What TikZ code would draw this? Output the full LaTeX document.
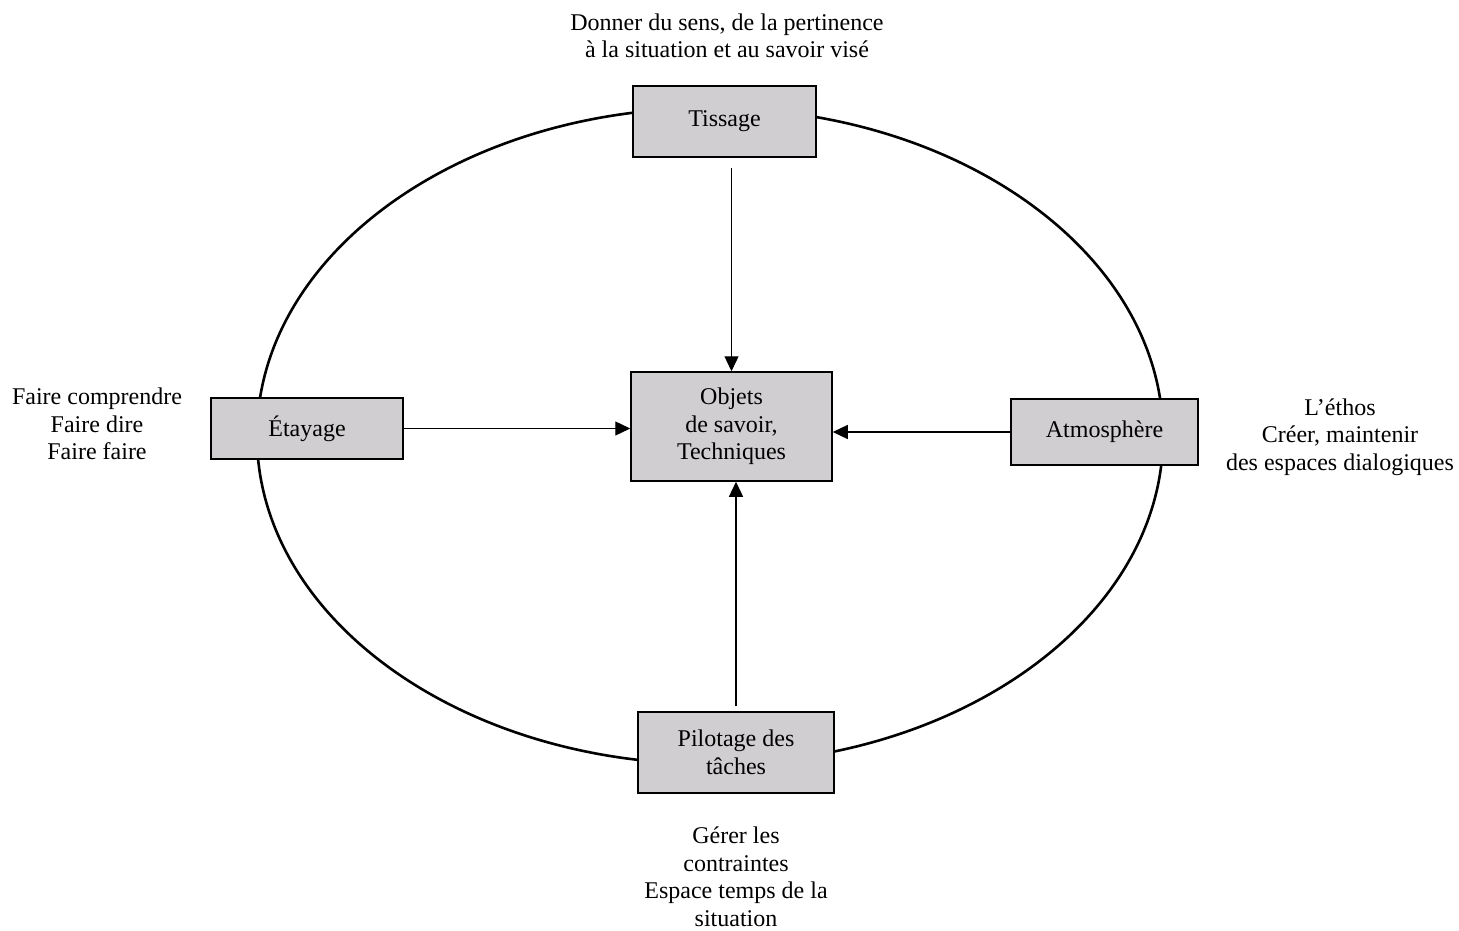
\documentclass[tikz,border=0pt]{standalone}
\usepackage{fontspec}
\setmainfont{Liberation Serif}
\usetikzlibrary{arrows.meta}
\definecolor{boxgray}{RGB}{208,206,208}
\begin{document}
\begin{tikzpicture}[x=1pt,y=-1pt,
  txt/.style={align=center,inner sep=0pt,font=\fontsize{24}{27.5}\selectfont},
  box/.style={draw=black,line width=1.5pt,fill=boxgray,inner sep=0pt,align=center,font=\fontsize{24}{27.5}\selectfont},
  arr/.style={line width=1.3pt,-{Triangle[length=15pt,width=14pt]}},
  ring/.style={line width=2.6pt}]
\useasboundingbox (0,0) rectangle (1459,931);
\draw[ring] (710,436) ellipse [x radius=453, y radius=328];
\node[box,minimum width=183pt,minimum height=71pt] (tis) at (724.5,121.5) {Tissage};
\node[box,minimum width=192pt,minimum height=61pt] (eta) at (307,428.5) {Étayage};
\node[box,minimum width=201pt,minimum height=109pt] (obj) at (731.5,426.5) {Objets\\de savoir,\\Techniques};
\node[box,minimum width=187pt,minimum height=66pt] (atm) at (1104.5,432) {Atmosphère};
\node[box,minimum width=196pt,minimum height=81pt] (pil) at (736,752.5) {Pilotage des\\tâches};
\draw[arr,shorten <=10pt] (obj.north |- tis.south) -- (obj.north);
\draw[arr,shorten <=5pt] (pil.north) -- (pil.north |- obj.south);
\draw[arr] (eta.east) -- (eta.east -| obj.west);
\draw[arr] (atm.west) -- (atm.west -| obj.east);
\node[txt] (ttop) at (727,36) {Donner du sens, de la pertinence\\à la situation et au savoir visé};
\node[txt] (tleft) at (97,424) {Faire comprendre\\Faire dire\\Faire faire};
\node[txt] (tright) at (1340,437) {L’éthos\\Créer, maintenir\\des espaces dialogiques};
\node[txt] (tbot) at (736,877) {Gérer les\\contraintes\\Espace temps de la\\situation};
\end{tikzpicture}
\end{document}
